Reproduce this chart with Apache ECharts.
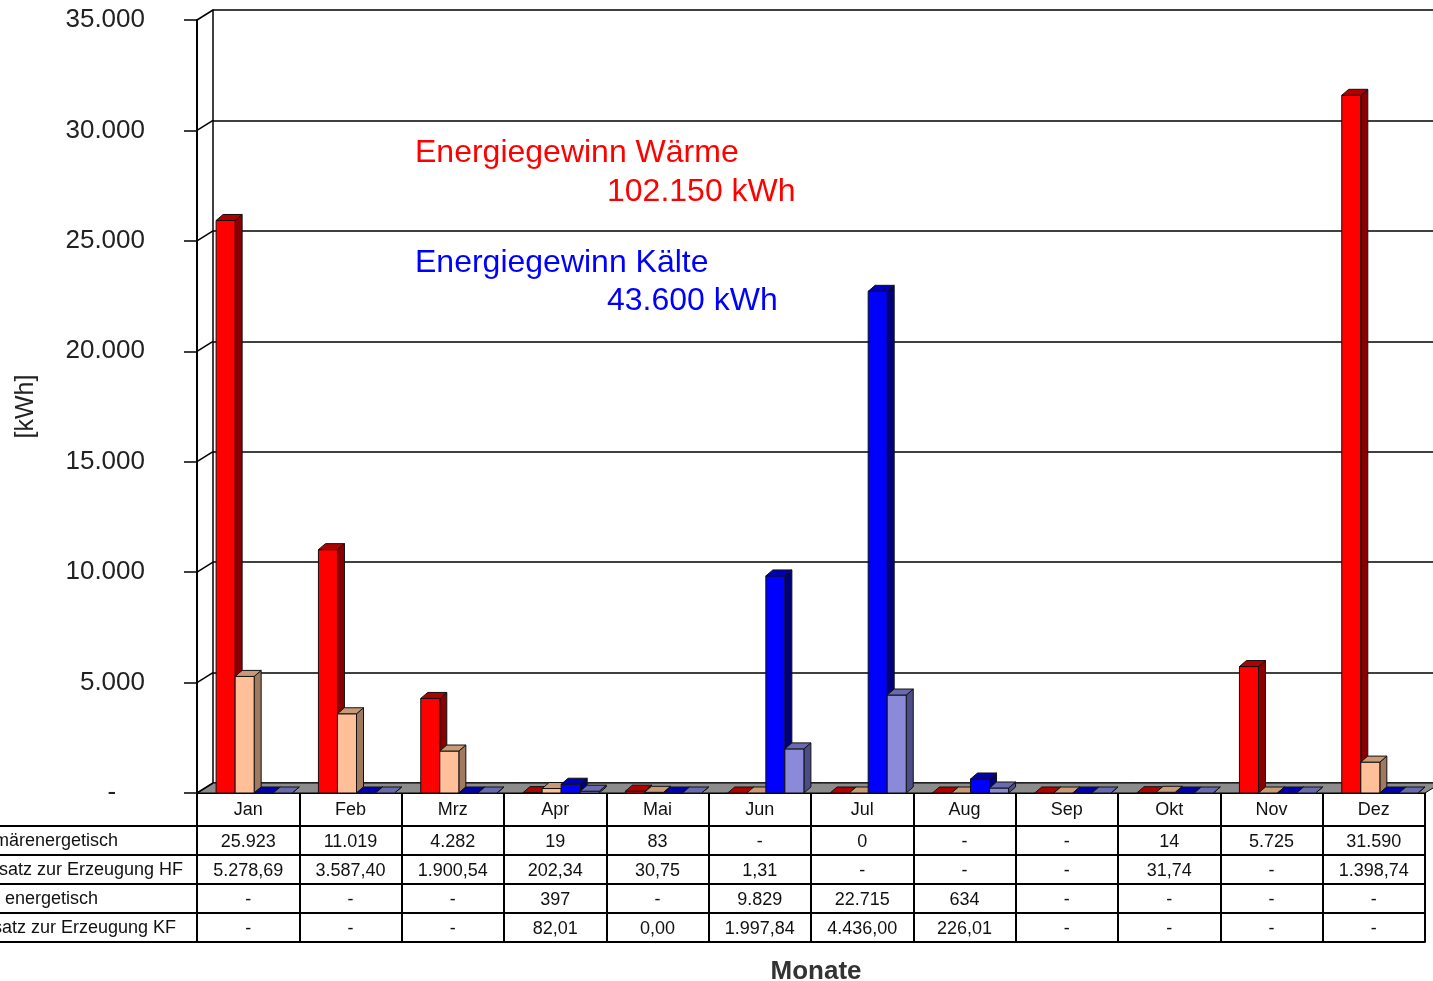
<!DOCTYPE html>
<html>
<head>
<meta charset="utf-8">
<script src="https://cdn.jsdelivr.net/npm/echarts/dist/echarts.min.js"></script>
<style>
html,body{margin:0;padding:0;background:#fff;}
#chart{width:1433px;height:981px;}
</style>
</head>
<body>
<div id="chart"></div>
<script>
// ---------- DATA ----------
const months = ['Jan','Feb','Mrz','Apr','Mai','Jun','Jul','Aug','Sep','Okt','Nov','Dez'];
const waermePrim = [25923, 11019, 4282, 19, 83, null, 0, null, null, 14, 5725, 31590];
const einsatzHF  = [5278.69, 3587.40, 1900.54, 202.34, 30.75, 1.31, null, null, null, 31.74, null, 1398.74];
const kaeltePrim = [null, null, null, 397, null, 9829, 22715, 634, null, null, null, null];
const einsatzKF  = [null, null, null, 82.01, 0.00, 1997.84, 4436.00, 226.01, null, null, null, null];
const rowLabels = ['Wärme primärenergetisch', 'Energieeinsatz zur Erzeugung HF', 'Kälte primär energetisch', 'Energieeinsatz zur Erzeugung KF'];
const yTickValues = [0, 5000, 10000, 15000, 20000, 25000, 30000, 35000];
const noteWaerme = ['Energiegewinn Wärme', '102.150 kWh'];
const noteKaelte = ['Energiegewinn Kälte', '43.600 kWh'];

// ---------- LAYOUT ----------
const W = 1433, H = 981;
const GL = 197, GR = 8, GT = 20, GB = 188;
const DX = 16, DY = 10;          // wall depth
const BDX = 7, BDY = 6;          // bar depth
const HEADER_H = 33, ROW_H = 29;
const AXIS_Y = H - GB;
const FONT = 'Liberation Sans, Arial, sans-serif';

function fmtInt(v){ if(v==null) return '-'; return Math.round(v).toString().replace(/\B(?=(\d{3})+(?!\d))/g,'.'); }
function fmtDec(v){ if(v==null) return '-'; const p = v.toFixed(2).split('.'); return p[0].replace(/\B(?=(\d{3})+(?!\d))/g,'.') + ',' + p[1]; }

const rows = [
  {data: waermePrim, fmt: fmtInt},
  {data: einsatzHF, fmt: fmtDec},
  {data: kaeltePrim, fmt: fmtInt},
  {data: einsatzKF, fmt: fmtDec}
];

function bar3d(k, c){
  return function(params, api){
    const i = api.value(0), v = api.value(1);
    const p = api.coord([i, v]);
    const p0 = api.coord([i, 0]);
    const band = api.size([1, 0])[0];
    const bw = band * 0.186;
    const x = p[0] - 2 * bw + k * bw + 6;
    const yT = p[1], yB = p0[1];
    return {
      type: 'group',
      children: [
        {type:'polygon', shape:{points:[[x+bw,yT],[x+bw+BDX,yT-BDY],[x+bw+BDX,yB-BDY],[x+bw,yB]]}, style:{fill:c[1], stroke:'#111', lineWidth:1}},
        {type:'rect', shape:{x:x, y:yT, width:bw, height:yB-yT}, style:{fill:c[0], stroke:'#111', lineWidth:1}},
        {type:'polygon', shape:{points:[[x,yT],[x+BDX,yT-BDY],[x+bw+BDX,yT-BDY],[x+bw,yT]]}, style:{fill:c[2], stroke:'#111', lineWidth:1}}
      ]
    };
  };
}

const barColors = [
  ['#ff0000', '#8a0000', '#b00000'],
  ['#ffc099', '#a07a60', '#c89a78'],
  ['#0000ff', '#00007a', '#0000b0'],
  ['#8a8ad8', '#4c4c86', '#6a6ab0']
];

const xAxes = [
  {
    gridIndex: 0, type: 'category', data: months, position: 'bottom',
    axisLine: {show: true, lineStyle: {color: '#000', width: 2}},
    axisTick: {show: true, length: HEADER_H + ROW_H * 4, lineStyle: {color: '#000', width: 2}},
    axisLabel: {interval: 0, margin: 8, fontSize: 18, color: '#111', fontFamily: FONT},
    splitLine: {show: false}
  }
];
for (let r = 0; r <= 4; r++) {
  const row = rows[r];
  xAxes.push({
    gridIndex: 0, type: 'category', data: months, position: 'bottom',
    offset: HEADER_H + ROW_H * r,
    axisLine: {show: true, lineStyle: {color: '#000', width: 2}},
    axisTick: {show: false},
    axisLabel: row ? {interval: 0, margin: 7, fontSize: 18, color: '#111', fontFamily: FONT,
      formatter: (val, idx) => row.fmt(row.data[idx])} : {show: false},
    splitLine: {show: false}
  });
}
xAxes.push({gridIndex: 1, type: 'category', data: months, show: false});

// row label right ends inside the (clipped) label column
const labelEnds = [118, 183, 98, 176];
const graphics = [];
for (let r = 0; r <= 4; r++) {
  const y = AXIS_Y + HEADER_H + ROW_H * r;
  graphics.push({type: 'line', shape: {x1: 0, y1: y, x2: GL, y2: y}, style: {stroke: '#000', lineWidth: 2}});
  if (r < 4) {
    graphics.push({type: 'text', x: labelEnds[r], y: y + ROW_H / 2 + 1, style: {text: rowLabels[r], fill: '#111',
      font: '18px "Liberation Sans", Arial, sans-serif', textAlign: 'right', textVerticalAlign: 'middle'}});
  }
}

const noteFont = '32px "Liberation Sans", Arial, sans-serif';
graphics.push(
  {type:'text', x:415, y:153, style:{text: noteWaerme[0], fill:'#ff0000', font: noteFont, textVerticalAlign:'middle'}},
  {type:'text', x:607, y:192, style:{text: noteWaerme[1], fill:'#ff0000', font: noteFont, textVerticalAlign:'middle'}},
  {type:'text', x:415, y:263, style:{text: noteKaelte[0], fill:'#0000ff', font: noteFont, textVerticalAlign:'middle'}},
  {type:'text', x:607, y:301, style:{text: noteKaelte[1], fill:'#0000ff', font: noteFont, textVerticalAlign:'middle'}}
);

const series = [
  { // floor
    type: 'custom', xAxisIndex: 0, yAxisIndex: 0, z: 1, silent: true,
    data: [[0, 0]],
    renderItem: function(params, api){
      const band = api.size([1, 0])[0];
      const a = api.coord([0, 0]);
      const b = api.coord([months.length - 1, 0]);
      const x1 = a[0] - band / 2, x2 = b[0] + band / 2, y = a[1];
      return {type:'polygon', shape:{points:[[x1,y],[x2,y],[x2+DX,y-DY],[x1+DX,y-DY]]}, style:{fill:'#8c8c8c', stroke:'#000', lineWidth:1}};
    }
  },
  { // connectors between front axis and back wall
    type: 'custom', xAxisIndex: 0, yAxisIndex: 0, z: 1, silent: true,
    data: yTickValues.map(v => [0, v]),
    renderItem: function(params, api){
      const band = api.size([1, 0])[0];
      const p = api.coord([0, api.value(1)]);
      const x = p[0] - band / 2;
      return {type:'line', shape:{x1:x, y1:p[1], x2:x+DX, y2:p[1]-DY}, style:{stroke:'#000', lineWidth:1.5}};
    }
  }
];
[waermePrim, einsatzHF, kaeltePrim, einsatzKF].forEach((arr, k) => {
  series.push({
    type: 'custom', xAxisIndex: 0, yAxisIndex: 0, z: 3,
    data: arr.map((v, i) => [i, v == null ? 0 : v]),
    renderItem: bar3d(k, barColors[k])
  });
});

const option = {
  animation: false,
  backgroundColor: '#fff',
  textStyle: {fontFamily: FONT},
  title: {
    text: 'Monate', left: (GL + (W - GR)) / 2, top: 954, textAlign: 'center',
    textStyle: {fontSize: 26, fontWeight: 'bold', color: '#333', fontFamily: FONT}
  },
  grid: [
    {left: GL, right: GR, top: GT, bottom: GB},
    {left: GL + DX, right: 0, top: GT - DY, bottom: GB + DY}
  ],
  xAxis: xAxes,
  yAxis: [
    {
      gridIndex: 0, type: 'value', min: 0, max: 35000, interval: 5000,
      name: '[kWh]', nameLocation: 'middle', nameRotate: 90, nameGap: 158,
      nameTextStyle: {fontSize: 25, color: '#222', fontFamily: FONT},
      axisLine: {show: true, lineStyle: {color: '#000', width: 2}},
      axisTick: {show: true, length: 13, lineStyle: {color: '#000', width: 1.5}},
      axisLabel: {margin: 52, fontSize: 26, color: '#222', fontFamily: FONT,
        formatter: v => v === 0 ? '-    ' : fmtInt(v)},
      splitLine: {show: false}
    },
    {
      gridIndex: 1, type: 'value', min: 0, max: 35000, interval: 5000,
      axisLine: {show: true, lineStyle: {color: '#000', width: 1.5}},
      axisTick: {show: false}, axisLabel: {show: false},
      splitLine: {show: true, lineStyle: {color: '#000', width: 1.5}}
    }
  ],
  graphic: graphics,
  series: series
};

const chart = echarts.init(document.getElementById('chart'), null, {renderer: 'canvas'});
chart.setOption(option);
</script>
</body>
</html>
